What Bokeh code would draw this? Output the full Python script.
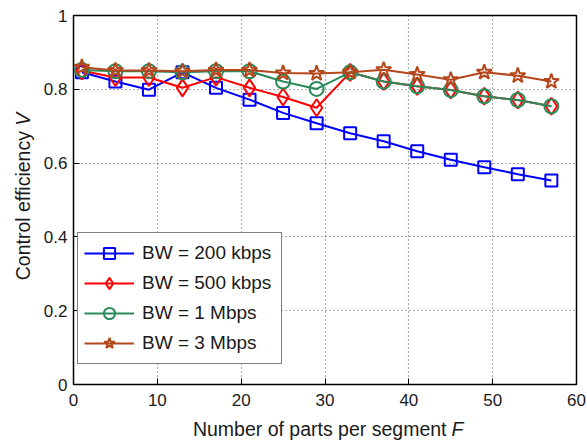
import math
from bokeh.plotting import figure
from bokeh.models import Range1d, FixedTicker, Legend
from bokeh.layouts import column, row
from bokeh.core.properties import value
from bokeh.embed import file_html
from bokeh.resources import INLINE

# Number of parts per segment
parts = [1, 5, 9, 13, 17, 21, 25, 29, 33, 37, 41, 45, 49, 53, 57]

# Control efficiency for each bandwidth
bw_200k = [0.846, 0.821, 0.799, 0.846, 0.804, 0.772, 0.736, 0.708, 0.681,
           0.659, 0.632, 0.609, 0.589, 0.570, 0.553]
bw_500k = [0.850, 0.832, 0.832, 0.804, 0.833, 0.804, 0.779, 0.750, 0.846,
           0.821, 0.808, 0.798, 0.781, 0.771, 0.754]
bw_1m = [0.852, 0.849, 0.849, 0.846, 0.849, 0.849, 0.821, 0.801, 0.846,
         0.821, 0.808, 0.798, 0.781, 0.771, 0.754]
bw_3m = [0.860, 0.851, 0.851, 0.849, 0.852, 0.852, 0.844, 0.843, 0.846,
         0.853, 0.840, 0.826, 0.846, 0.837, 0.821]

series_labels = ["BW = 200 kbps", "BW = 500 kbps", "BW = 1 Mbps", "BW = 3 Mbps"]
x_ticks = [0, 10, 20, 30, 40, 50, 60]
y_ticks = [0, 0.2, 0.4, 0.6, 0.8, 1]
y_tick_text = {0: "0", 0.2: "0.2", 0.4: "0.4", 0.6: "0.6", 0.8: "0.8", 1: "1"}

x_title = ["Number of parts per segment", "F"]
y_title = ["Control efficiency", "V"]

FONT = "Liberation Sans"
INK = "#1a1a1a"

# ---- main plot -------------------------------------------------------------
p = figure(width=547, height=415, output_backend="svg", toolbar_location=None,
           x_range=Range1d(0, 60), y_range=Range1d(0, 1),
           min_border_left=33, min_border_right=11, min_border_top=15,
           min_border_bottom=31)
p.background_fill_color = "white"
p.border_fill_color = "white"
p.outline_line_color = "black"
p.outline_line_width = 1.5

for ax in (p.xaxis[0], p.yaxis[0]):
    ax.axis_line_color = None
    ax.major_tick_in = 6
    ax.major_tick_out = 0
    ax.major_tick_line_color = "black"
    ax.minor_tick_line_color = None
    ax.major_label_text_font = FONT
    ax.major_label_text_font_size = "17px"
    ax.major_label_text_color = INK

p.xaxis.ticker = FixedTicker(ticks=x_ticks)
p.yaxis.ticker = FixedTicker(ticks=y_ticks)
p.yaxis.major_label_overrides = y_tick_text
p.xaxis.major_label_standoff = 9
p.yaxis.major_label_standoff = 6

p.xgrid.ticker = FixedTicker(ticks=x_ticks)
p.ygrid.ticker = FixedTicker(ticks=y_ticks)
p.grid.grid_line_color = "#333333"
p.grid.grid_line_dash = "1 3"
p.grid.grid_line_width = 1.2
p.grid.grid_line_alpha = 0.8

colors = ["#0000ff", "#ff0000", "#2a8a5a", "#b4471c"]
markers = ["square", "diamond", "circle", "star"]
sizes = [12, 17, 14, 16]
data = [bw_200k, bw_500k, bw_1m, bw_3m]

items = []
for ys, col, mk, sz, lab in zip(data, colors, markers, sizes, series_labels):
    ln = p.line(parts, ys, line_color=col, line_width=2)
    sc = p.scatter(parts, ys, marker=mk, size=sz, line_color=col,
                   fill_color=None, line_width=2)
    items.append((lab, [ln, sc]))

legend = Legend(items=items, location=(4, 20))
legend.label_text_font = FONT
legend.label_text_font_size = "19px"
legend.label_text_color = INK
legend.glyph_width = 50
legend.glyph_height = 28
legend.label_height = 28
legend.label_width = 133
legend.spacing = 2
legend.padding = 6
legend.margin = 0
legend.label_standoff = 8
legend.border_line_color = "black"
legend.border_line_width = 1.5
legend.background_fill_color = "white"
legend.background_fill_alpha = 1
p.add_layout(legend, "center")


# ---- axis titles (regular text with an italic variable name) --------------
def text_panel(w, h):
    # a bare canvas whose data units are its own pixels, origin at top-left
    f = figure(width=w, height=h, output_backend="svg", toolbar_location=None,
               title=None, x_axis_location=None, y_axis_location=None,
               x_range=Range1d(0, w), y_range=Range1d(h, 0),
               min_border=0)
    f.grid.visible = False
    f.outline_line_color = None
    f.background_fill_color = "white"
    f.border_fill_color = "white"
    return f


style = dict(text_font=value(FONT), text_font_size="19.5px", text_color=INK)

# vertical title, read bottom to top: the words end just below the italic V
ylab = text_panel(40, 415)
ylab.text(x=[22], y=[130], text=[y_title[0]], angle=math.pi / 2,
          text_align="right", text_baseline="middle", **style)
ylab.text(x=[22], y=[124], text=[y_title[1]], angle=math.pi / 2,
          text_font_style="italic", text_align="left",
          text_baseline="middle", **style)

# horizontal title: the italic variable follows the words
xlab = text_panel(587, 27)
xlab.text(x=[446], y=[13], text=[x_title[0]], text_align="right",
          text_baseline="alphabetic", **style)
xlab.text(x=[451], y=[13], text=[x_title[1]], text_font_style="italic",
          text_align="left", text_baseline="alphabetic", **style)

layout = column(row(ylab, p, spacing=0), xlab, spacing=0)

open("out.html", "w").write(file_html(layout, INLINE))
